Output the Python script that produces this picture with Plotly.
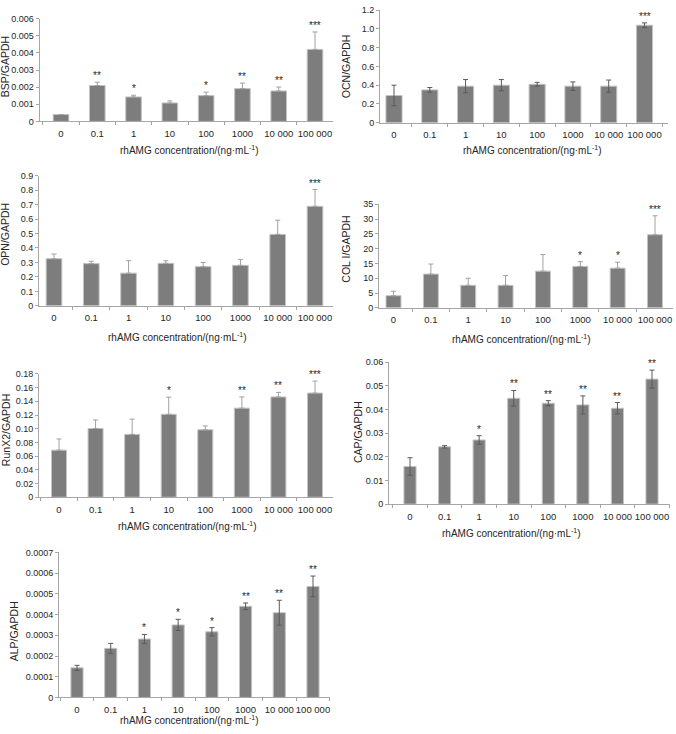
import plotly.graph_objects as go

W, H = 676, 734

# ---------------- data ----------------
conc = ["0", "0.1", "1", "10", "100", "1000", "10 000", "100 000"]

bsp = [0.0004, 0.0021, 0.00143, 0.00108, 0.00151, 0.00192, 0.00178, 0.00421]
bsp_err = [0.0, 0.00019, 0.0001, 0.00012, 0.0002, 0.00032, 0.00023, 0.00102]
bsp_sig = ["", "**", "*", "", "*", "**", "**", "***"]
bsp_ticks = [0, 0.001, 0.002, 0.003, 0.004, 0.005, 0.006]
bsp_ticktext = ["0", "0.001", "0.002", "0.003", "0.004", "0.005", "0.006"]

ocn = [0.29, 0.35, 0.39, 0.40, 0.41, 0.39, 0.39, 1.04]
ocn_err = [0.11, 0.025, 0.07, 0.06, 0.02, 0.045, 0.065, 0.025]
ocn_sig = ["", "", "", "", "", "", "", "***"]
ocn_ticks = [0, 0.2, 0.4, 0.6, 0.8, 1.0, 1.2]
ocn_ticktext = ["0", "0.2", "0.4", "0.6", "0.8", "1.0", "1.2"]

opn = [0.326, 0.292, 0.226, 0.294, 0.271, 0.28, 0.494, 0.688]
opn_err = [0.032, 0.016, 0.086, 0.018, 0.029, 0.041, 0.098, 0.116]
opn_sig = ["", "", "", "", "", "", "", "***"]
opn_ticks = [0, 0.1, 0.2, 0.3, 0.4, 0.5, 0.6, 0.7, 0.8, 0.9]
opn_ticktext = ["0", "0.1", "0.2", "0.3", "0.4", "0.5", "0.6", "0.7", "0.8", "0.9"]

col = [4.1, 11.4, 7.6, 7.6, 12.4, 14.0, 13.4, 24.7]
col_err = [1.5, 3.4, 2.4, 3.3, 5.6, 1.6, 2.0, 6.4]
col_sig = ["", "", "", "", "", "*", "*", "***"]
col_ticks = [0, 5, 10, 15, 20, 25, 30, 35]
col_ticktext = ["0", "5", "10", "15", "20", "25", "30", "35"]

runx2 = [0.0687, 0.1003, 0.0917, 0.121, 0.0984, 0.130, 0.1464, 0.152]
runx2_err = [0.0163, 0.0125, 0.0223, 0.025, 0.0056, 0.0164, 0.0066, 0.0175]
runx2_sig = ["", "", "", "*", "", "**", "**", "***"]
runx2_ticks = [0, 0.02, 0.04, 0.06, 0.08, 0.10, 0.12, 0.14, 0.16, 0.18]
runx2_ticktext = ["0", "0.02", "0.04", "0.06", "0.08", "0.10", "0.12", "0.14", "0.16", "0.18"]

cap = [0.0159, 0.0242, 0.0271, 0.0447, 0.0426, 0.0419, 0.0405, 0.0528]
cap_err = [0.0037, 0.0005, 0.0018, 0.0033, 0.0011, 0.0038, 0.0024, 0.0038]
cap_sig = ["", "", "*", "**", "**", "**", "**", "**"]
cap_ticks = [0, 0.01, 0.02, 0.03, 0.04, 0.05, 0.06]
cap_ticktext = ["0", "0.01", "0.02", "0.03", "0.04", "0.05", "0.06"]

alp = [0.000143, 0.000237, 0.000282, 0.00035, 0.000317, 0.00044, 0.000409, 0.000536]
alp_err = [0.000012, 0.000024, 0.000022, 0.000027, 0.00002, 0.000016, 0.00006, 0.00005]
alp_sig = ["", "", "*", "*", "*", "**", "**", "**"]
alp_ticks = [0, 0.0001, 0.0002, 0.0003, 0.0004, 0.0005, 0.0006, 0.0007]
alp_ticktext = ["0", "0.0001", "0.0002", "0.0003", "0.0004", "0.0005", "0.0006", "0.0007"]

x_title = "rhAMG concentration/(ng·mL<sup>-1</sup>)"

# ---------------- layout config (pixel geometry) ----------------
panels = [
    dict(title="BSP/GAPDH", y=bsp, err=bsp_err, sig=bsp_sig, tv=bsp_ticks, tt=bsp_ticktext,
         one=True, xl=39.5, c0=61, c7=315, xr=333, ytop=14, yzero=118,
         yt=(5, 63), xt=(189, 147), bw=0.43),
    dict(title="OCN/GAPDH", y=ocn, err=ocn_err, sig=ocn_sig, tv=ocn_ticks, tt=ocn_ticktext,
         one=False, xl=380, c0=394, c7=644.5, xr=668, ytop=5.3, yzero=119.3,
         yt=(346, 62), xt=(532, 147), bw=0.45),
    dict(title="OPN/GAPDH", y=opn, err=opn_err, sig=opn_sig, tv=opn_ticks, tt=opn_ticktext,
         one=True, xl=39, c0=54, c7=315, xr=333, ytop=173, yzero=305,
         yt=(5, 233), xt=(177, 337), bw=0.42),
    dict(title="COL I/GAPDH", y=col, err=col_err, sig=col_sig, tv=col_ticks, tt=col_ticktext,
         one=True, xl=379, c0=393.5, c7=655, xr=673, ytop=202, yzero=307,
         yt=(346, 247), xt=(521, 339), bw=0.40),
    dict(title="RunX2/GAPDH", y=runx2, err=runx2_err, sig=runx2_sig, tv=runx2_ticks, tt=runx2_ticktext,
         one=True, xl=39, c0=59, c7=315, xr=333, ytop=374, yzero=499,
         yt=(6, 431), xt=(187, 528), bw=0.41),
    dict(title="CAP/GAPDH", y=cap, err=cap_err, sig=cap_sig, tv=cap_ticks, tt=cap_ticktext,
         one=False, xl=389, c0=410, c7=652, xr=670, ytop=362, yzero=506,
         yt=(358, 433), xt=(511, 535), bw=0.35),
    dict(title="ALP/GAPDH", y=alp, err=alp_err, sig=alp_sig, tv=alp_ticks, tt=alp_ticktext,
         one=False, xl=59, c0=77, c7=313, xr=330, ytop=555, yzero=702,
         yt=(14, 635), xt=(189, 725), bw=0.36),
]

FONT = "Arial, Liberation Sans, sans-serif"
BAR_FILL = "#7d7d7d"
BAR_LINE = "#c4c4c4"
AXIS_COL = "#a6a6a6"
TEXT_COL = "#262626"

fig = go.Figure()
annotations = []
layout_axes = {}

for i, p in enumerate(panels, start=1):
    xa = "x" if i == 1 else f"x{i}"
    ya = "y" if i == 1 else f"y{i}"
    xkey = "xaxis" if i == 1 else f"xaxis{i}"
    ykey = "yaxis" if i == 1 else f"yaxis{i}"

    if p["one"]:
        err = dict(type="data", array=p["err"], arrayminus=[0] * len(p["err"]),
                   symmetric=False, color="#a0a0a0", thickness=1, width=2.5)
    else:
        err = dict(type="data", array=p["err"], symmetric=True,
                   color="#5a5a5a", thickness=1, width=2.5)

    fig.add_trace(go.Bar(
        x=conc, y=p["y"], xaxis=xa, yaxis=ya, width=p["bw"],
        marker=dict(color=BAR_FILL, line=dict(color=BAR_LINE, width=1)),
        error_y=err, showlegend=False, hoverinfo="skip",
    ))

    s = (p["c7"] - p["c0"]) / 7.0
    xr0 = -(p["c0"] - p["xl"]) / s
    xr1 = 7 + (p["xr"] - p["c7"]) / s
    ymax = p["tv"][-1]

    layout_axes[xkey] = dict(
        domain=[p["xl"] / W, p["xr"] / W], anchor=ya, type="category",
        categoryorder="array", categoryarray=conc,
        range=[xr0, xr1], showline=True, linecolor=AXIS_COL, linewidth=1,
        ticks="outside", tickson="boundaries", ticklen=3, tickcolor=AXIS_COL,
        tickangle=0, ticklabelstandoff=3,
        tickfont=dict(size=9.5, color=TEXT_COL, family=FONT),
        showgrid=False, zeroline=False, fixedrange=True,
    )
    layout_axes[ykey] = dict(
        domain=[1 - p["yzero"] / H, 1 - p["ytop"] / H], anchor=xa,
        range=[0, ymax], tickvals=p["tv"], ticktext=p["tt"],
        showline=True, linecolor=AXIS_COL, linewidth=1,
        ticks="outside", ticklen=3, tickcolor=AXIS_COL,
        tickfont=dict(size=9, color=TEXT_COL, family=FONT),
        showgrid=False, zeroline=False, fixedrange=True,
    )

    # significance stars (x given as category index)
    for j, (v, e, sg) in enumerate(zip(p["y"], p["err"], p["sig"])):
        if sg:
            annotations.append(dict(
                x=j, y=v + e, xref=xa, yref=ya, text=sg, showarrow=False,
                yanchor="bottom", yshift=-1,
                font=dict(size=10, color=TEXT_COL, family=FONT),
            ))

    # y title
    annotations.append(dict(
        x=p["yt"][0] / W, y=1 - p["yt"][1] / H, xref="paper", yref="paper",
        text=p["title"], textangle=-90, showarrow=False,
        xanchor="center", yanchor="middle",
        font=dict(size=10.5, color=TEXT_COL, family=FONT),
    ))
    # x title
    annotations.append(dict(
        x=p["xt"][0] / W, y=1 - p["xt"][1] / H, xref="paper", yref="paper",
        text=x_title, showarrow=False, xanchor="center", yanchor="middle",
        font=dict(size=10, color=TEXT_COL, family=FONT),
    ))

fig.update_layout(
    width=W, height=H,
    margin=dict(l=0, r=0, t=0, b=0),
    paper_bgcolor="white", plot_bgcolor="white",
    bargap=0.5, annotations=annotations,
    font=dict(family=FONT, color=TEXT_COL),
    **layout_axes,
)

fig.write_html(
    "out.html",
    config={"displayModeBar": False},
    post_script="document.body.style.margin='0';document.body.style.overflow='hidden';",
)
